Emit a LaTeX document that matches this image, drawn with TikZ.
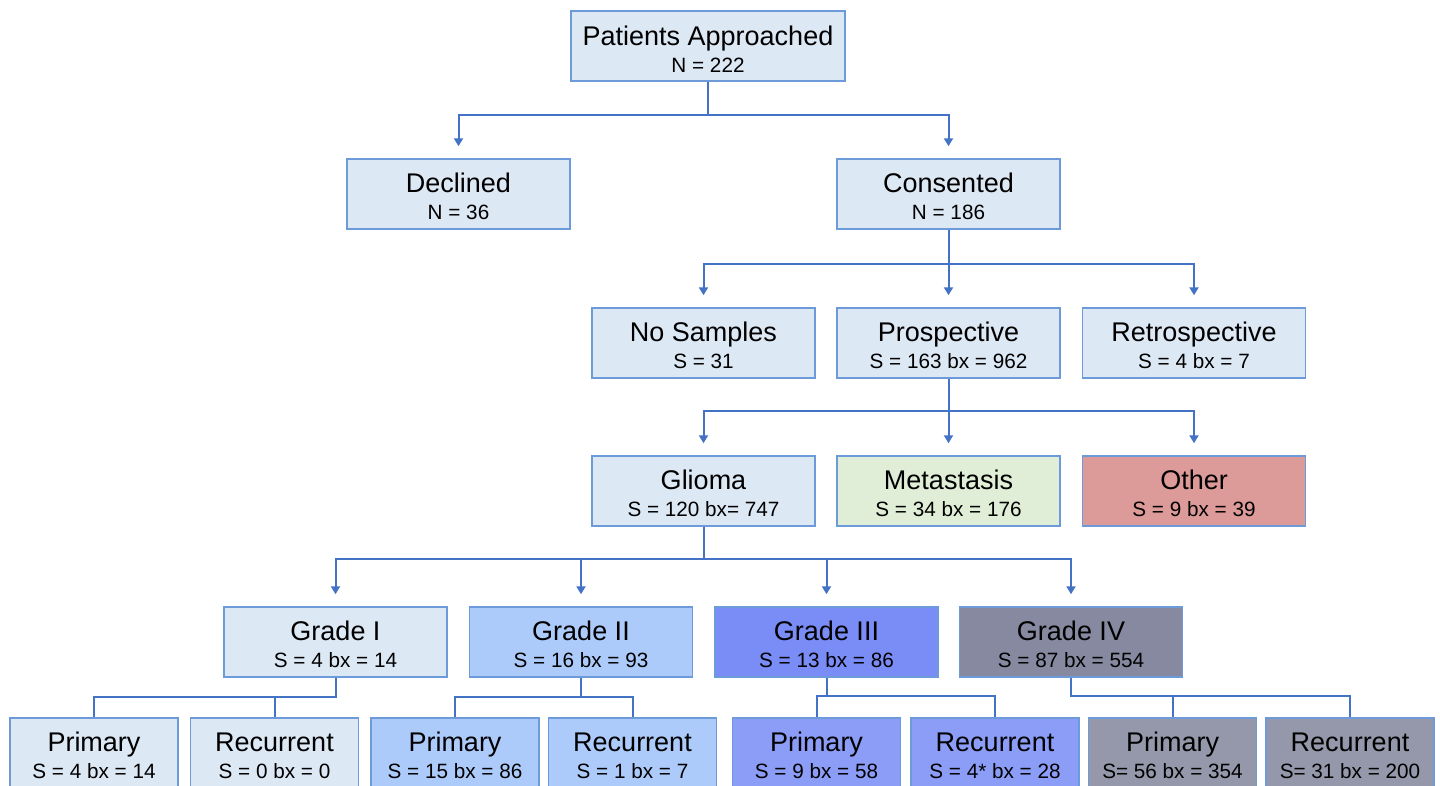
\documentclass[tikz,border=0pt]{standalone}
\usepackage{fontspec}
\setmainfont{Liberation Sans}
\usepackage{xcolor}
\usetikzlibrary{arrows.meta, positioning, calc}

\definecolor{boxfill}{HTML}{DDE8F5}
\definecolor{boxline}{HTML}{6D9AD9}
\definecolor{linkblue}{HTML}{4472C4}
\definecolor{metafill}{HTML}{E0EED8}
\definecolor{otherfill}{HTML}{DC9A98}
\definecolor{gradetwo}{HTML}{ADCBFA}
\definecolor{gradethree}{HTML}{7A8CF5}
\definecolor{gradethreelt}{HTML}{8B9DF7}
\definecolor{gradefour}{HTML}{86899F}
\definecolor{gradefourlt}{HTML}{9598AA}

\newcommand{\boxtext}[2]{\rule{0pt}{25pt}#1\\[-3pt]{\fontsize{20.7}{26}\selectfont #2}}

\begin{document}
\begin{tikzpicture}[x=1pt, y=-1pt]
    \tikzstyle{stage} = [rectangle, draw=boxline, line width=1.5pt, fill=boxfill, minimum width=223pt, minimum height=70pt, align=center, inner sep=0pt, font=\fontsize{27}{30}\selectfont]
    \tikzstyle{leaf} = [stage, minimum width=168pt]
    \tikzstyle{arrow} = [draw=linkblue, line width=2pt, -{Triangle[width=9pt,length=8pt]}, shorten >=12pt]
    \tikzstyle{link} = [draw=linkblue, line width=2pt]

    \clip (0,0) rectangle (1440,785);
    \fill[white] (0,0) rectangle (1440,785);

    \node[stage, minimum width=274pt] (approached) at (708,46) {\boxtext{Patients Approached}{N = 222}};
    \node[stage] (declined) at (458.5,194) {\boxtext{Declined}{N = 36}};
    \node[stage] (consented) at (948.5,194) {\boxtext{Consented}{N = 186}};

    \node[stage] (nosamples) at (703.5,343) {\boxtext{No Samples}{S = 31}};
    \node[stage] (prospective) at (948.5,343) {\boxtext{Prospective}{S = 163 bx = 962}};
    \node[stage] (retrospective) at (1194,343) {\boxtext{Retrospective}{S = 4 bx = 7}};

    \node[stage] (glioma) at (703.5,491) {\boxtext{Glioma}{S = 120 bx= 747}};
    \node[stage, fill=metafill] (metastasis) at (948.5,491) {\boxtext{Metastasis}{S = 34 bx = 176}};
    \node[stage, fill=otherfill] (other) at (1194,491) {\boxtext{Other}{S = 9 bx = 39}};

    \node[stage] (gradeone) at (335.5,642) {\boxtext{Grade I}{S = 4 bx = 14}};
    \node[stage, fill=gradetwo] (gradetwo) at (581,642) {\boxtext{Grade II}{S = 16 bx = 93}};
    \node[stage, fill=gradethree] (gradethree) at (826.5,642) {\boxtext{Grade III}{S = 13 bx = 86}};
    \node[stage, fill=gradefour] (gradefour) at (1071,642) {\boxtext{Grade IV}{S = 87 bx = 554}};

    \node[leaf] (primone) at (94,753) {\boxtext{Primary}{S = 4 bx = 14}};
    \node[leaf] (recone) at (274.5,753) {\boxtext{Recurrent}{S = 0 bx = 0}};
    \node[leaf, fill=gradetwo] (primtwo) at (455,753) {\boxtext{Primary}{S = 15 bx = 86}};
    \node[leaf, fill=gradetwo] (rectwo) at (632.5,753) {\boxtext{Recurrent}{S = 1 bx = 7}};
    \node[leaf, fill=gradethreelt] (primthree) at (816.5,753) {\boxtext{Primary}{S = 9 bx = 58}};
    \node[leaf, fill=gradethreelt] (recthree) at (995,753) {\boxtext{Recurrent}{S = 4* bx = 28}};
    \node[leaf, fill=gradefourlt] (primfour) at (1172.5,753) {\boxtext{Primary}{S= 56 bx = 354}};
    \node[leaf, fill=gradefourlt] (recfour) at (1350,753) {\boxtext{Recurrent}{S= 31 bx = 200}};

    % patients -> declined / consented
    \draw[arrow] (approached.south) -- ++(0,33) -| (declined.north);
    \draw[arrow] (approached.south) -- ++(0,33) -| (consented.north);

    % consented -> samples
    \draw[arrow] (consented.south) -- ++(0,34) -| (nosamples.north);
    \draw[arrow] (consented.south) -- (prospective.north);
    \draw[arrow] (consented.south) -- ++(0,34) -| (retrospective.north);

    % prospective -> tumour type
    \draw[arrow] (prospective.south) -- ++(0,32) -| (glioma.north);
    \draw[arrow] (prospective.south) -- (metastasis.north);
    \draw[arrow] (prospective.south) -- ++(0,32) -| (other.north);

    % glioma -> grades
    \foreach \g in {gradeone, gradetwo, gradethree, gradefour}
        \draw[arrow] (glioma.south) -- ++(0,32) -| (\g.north);

    % grades -> primary / recurrent
    \draw[link] (gradeone.south) -- ++(0,19) -| (primone.north);
    \draw[link] (gradeone.south) -- ++(0,19) -| (recone.north);
    \draw[link] (gradetwo.south) -- ++(0,19) -| (primtwo.north);
    \draw[link] (gradetwo.south) -- ++(0,19) -| (rectwo.north);
    \draw[link] (gradethree.south) -- ++(0,18) -| (primthree.north);
    \draw[link] (gradethree.south) -- ++(0,18) -| (recthree.north);
    \draw[link] (gradefour.south) -- ++(0,18) -| (primfour.north);
    \draw[link] (gradefour.south) -- ++(0,18) -| (recfour.north);
\end{tikzpicture}
\end{document}
